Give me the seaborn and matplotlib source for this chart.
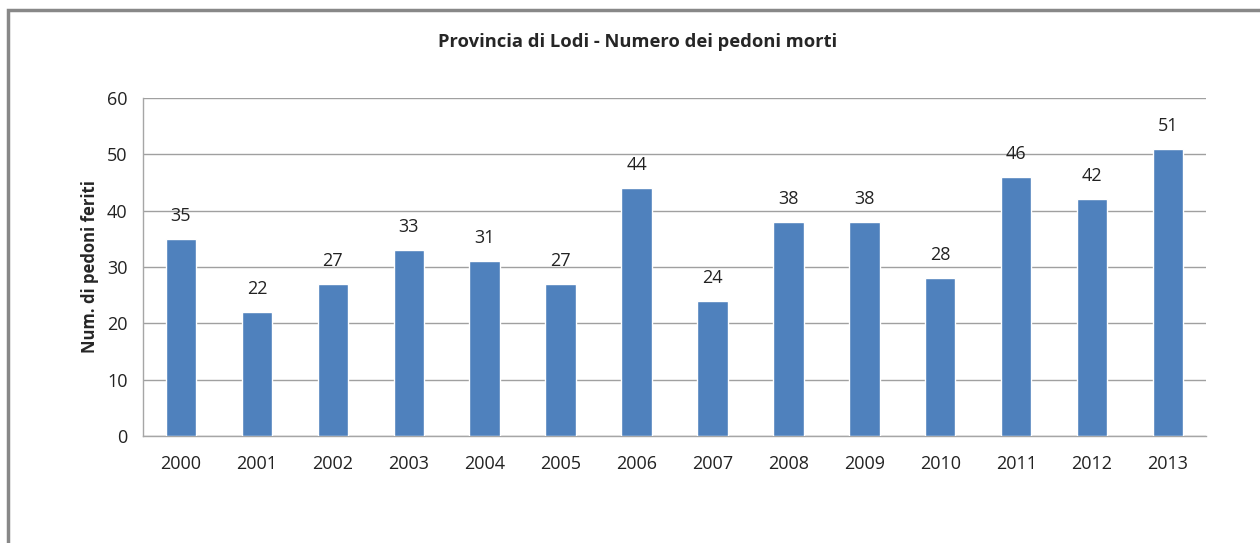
import numpy as np
import pandas as pd
import seaborn as sns
import matplotlib.pyplot as plt
from matplotlib.patches import Rectangle
from matplotlib.ticker import FixedLocator

years = ['2000', '2001', '2002', '2003', '2004', '2005', '2006',
         '2007', '2008', '2009', '2010', '2011', '2012', '2013']
morti = [35, 22, 27, 33, 31, 27, 44, 24, 38, 38, 28, 46, 42, 51]
y_ticks = [0, 10, 20, 30, 40, 50, 60]

df = pd.DataFrame({'anno': years, 'morti': morti})

sns.set_style('white')
plt.rcParams['font.family'] = ['Open Sans', 'DejaVu Sans']

fig = plt.figure(figsize=(12.6, 5.43), dpi=100)
ax = fig.add_axes([143 / 1260, 1 - 436 / 543, (1206 - 143) / 1260, (436 - 98) / 543])

sns.barplot(data=df, x='anno', y='morti', color='#4F81BD', width=0.4,
            saturation=1, ax=ax, zorder=3)

ax.set_xlim(-0.5, len(years) - 0.5)
ax.set_ylim(0, 60)
ax.set_yticks(y_ticks)
ax.yaxis.grid(True, color='#a0a0a0', lw=1, zorder=0)
ax.set_axisbelow(True)

for s in ['top', 'right']:
    ax.spines[s].set_visible(False)
for s in ['left', 'bottom']:
    ax.spines[s].set_color('#a6a6a6')
    ax.spines[s].set_linewidth(1)

ax.tick_params(axis='y', length=5, color='#a6a6a6', labelsize=13, pad=6, labelcolor='#222222')
ax.tick_params(axis='x', which='major', length=0, labelsize=13, pad=14, labelcolor='#222222')
ax.xaxis.set_minor_locator(FixedLocator(np.arange(-0.5, len(years), 1)))
ax.tick_params(axis='x', which='minor', length=6, color='#a6a6a6', direction='out')

# etichette sopra le barre
for i, v in enumerate(morti):
    ax.text(i, v + 2.5, str(v), ha='center', va='bottom', fontsize=13, color='#222222')

ax.set_xlabel('')
ax.set_ylabel('Num. di pedoni feriti', fontsize=12, fontweight='bold', labelpad=6)

fig.text(638 / 1260, 1 - 42 / 543, 'Provincia di Lodi - Numero dei pedoni morti',
         ha='center', va='center', fontsize=13.2, fontweight='bold')

fig.patches.append(Rectangle((8 / 1260, -0.2), 2, 1 - 10 / 543 + 0.2,
                             transform=fig.transFigure, fill=False,
                             edgecolor='#888888', lw=2.5))

fig.savefig('out.png', dpi=100)
